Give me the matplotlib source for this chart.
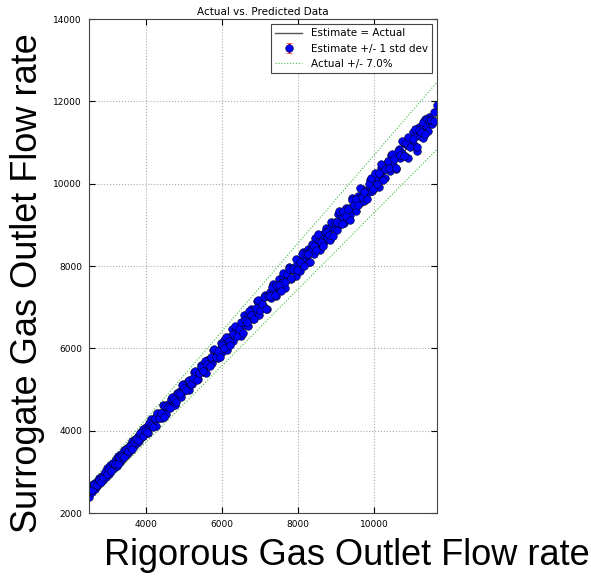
import matplotlib
matplotlib.use("Agg")
import matplotlib.pyplot as plt

# rigorous (actual) gas outlet flow rate vs surrogate (predicted) values
actual = [
    2510, 2540, 2580, 2610, 2650, 2690, 2720, 2760, 2800, 2830,
    2870, 2910, 2940, 2980, 3020, 3050, 3090, 3130, 3160, 3200,
    3240, 3270, 3310, 3350, 3380, 3420, 3460, 3490, 3530, 3570,
    3600, 3640, 3680, 3710, 3750, 3790, 3820, 3860, 3900, 3930,
    3970,
    4010, 4050, 4090, 4130, 4170, 4210, 4250, 4290, 4330, 4370,
    4410, 4450, 4490, 4530, 4570, 4610, 4650, 4690, 4730, 4770,
    4810, 4850, 4890, 4930, 4970, 5010, 5050, 5090, 5130, 5170,
    5210, 5250, 5290, 5330, 5370, 5410, 5450, 5490, 5530, 5570,
    5610, 5650, 5690, 5730, 5770, 5810, 5850, 5890, 5930, 5970,
    6010, 6050, 6090, 6130, 6170, 6210, 6250, 6290, 6330, 6370,
    6410, 6450, 6490, 6530, 6570, 6610, 6650, 6690, 6730, 6770,
    6810, 6850, 6890, 6930, 6970, 7010, 7050, 7090, 7130, 7170,
    7210, 7250, 7290, 7330, 7370, 7410, 7450, 7490, 7530, 7570,
    7610, 7650, 7690, 7730, 7770, 7810, 7850, 7890, 7930, 7970,
    8010, 8050, 8090, 8130, 8170, 8210, 8250, 8290, 8330, 8370,
    8410, 8450, 8490, 8530, 8570, 8610, 8650, 8690, 8730, 8770,
    8810, 8850, 8890, 8930, 8970, 9010, 9050, 9090, 9130, 9170,
    9210, 9250, 9290, 9330, 9370, 9410, 9450, 9490, 9530, 9570,
    9610, 9650, 9690, 9730, 9770, 9810, 9850, 9890, 9930, 9970,
    10010, 10050, 10090, 10130, 10170, 10210, 10250, 10290, 10330, 10370,
    10410, 10450, 10490, 10530, 10570, 10610, 10650, 10690, 10730, 10770,
    10810, 10850, 10890, 10930, 10970, 11010, 11050, 11090, 11130, 11170,
    11210, 11250, 11290, 11330, 11370, 11410, 11450, 11490, 11530, 11570,
    11640,
    # second batch of samples
    2530, 2590, 2640, 2700, 2750, 2810, 2860, 2920, 2970, 3030,
    3080, 3140, 3190, 3250, 3300, 3360, 3410, 3470, 3520, 3580,
    3630, 3690, 3740, 3800, 3850, 3910, 3960,
    4020, 4070, 4130, 4180, 4240, 4290, 4350, 4400, 4460, 4510,
    4570, 4620, 4680, 4730, 4790, 4840, 4900, 4950, 5010, 5060,
    5120, 5170, 5230, 5280, 5340, 5390, 5450, 5500, 5560, 5610,
    5670, 5720, 5780, 5830, 5890, 5940,
    6000, 6060, 6110, 6170, 6220, 6280, 6330, 6390, 6440, 6500,
    6550, 6610, 6660, 6720, 6770, 6830, 6880, 6940, 6990, 7050,
    7100, 7160, 7210, 7270, 7320, 7380, 7430, 7490, 7540, 7600,
    7650, 7710, 7760, 7820, 7870, 7930, 7980,
    8040, 8090, 8150, 8200, 8260, 8310, 8370, 8420, 8480, 8530,
    8590, 8640, 8700, 8750, 8810, 8860, 8920, 8970, 9030, 9080,
    9140, 9190, 9250, 9300, 9360, 9410, 9470, 9520, 9580, 9630,
    9690, 9740, 9800, 9850, 9910, 9960,
    10020, 10070, 10130, 10180, 10240, 10290, 10350, 10400, 10460, 10510,
    10570, 10620, 10680, 10730, 10790, 10840, 10900, 10950, 11010, 11060,
    11120, 11170, 11230, 11280, 11340, 11390, 11450, 11500, 11560,
]
predicted = [
    2380, 2630, 2520, 2700, 2580, 2760, 2650, 2860, 2740, 2900,
    2810, 2980, 2870, 3100, 2950, 3160, 3040, 3210, 3090, 3310,
    3150, 3380, 3240, 3440, 3300, 3520, 3400, 3590, 3450, 3660,
    3540, 3750, 3620, 3800, 3700, 3870, 3760, 3960, 3850, 4050,
    3920,
    4090, 3940, 4110, 4280, 4110, 4250, 4110, 4390, 4310, 4430,
    4320, 4620, 4490, 4410, 4660, 4570, 4780, 4610, 4760, 4620,
    4920, 4840, 4960, 4830, 5130, 4960, 5070, 5210, 5000, 5220,
    5140, 5430, 5270, 5420, 5260, 5450, 5590, 5430, 5540, 5410,
    5710, 5620, 5750, 5640, 5970, 5770, 5930, 5770, 5960, 6120,
    5920, 6210, 6120, 5950, 6280, 6190, 6470, 6170, 6390, 6510,
    6340, 6460, 6290, 6620, 6820, 6570, 6770, 6540, 6770, 6950,
    6710, 6920, 6860, 7140, 6810, 7110, 7070, 7010, 7300, 6950,
    7260, 7380, 7230, 7570, 7360, 7270, 7530, 7680, 7420, 7600,
    7760, 7460, 7750, 7680, 7970, 7680, 7960, 7900, 7760, 8060,
    8130, 7890, 8130, 8330, 8090, 8190, 8420, 8090, 8420, 8380,
    8280, 8680, 8450, 8590, 8390, 8750, 8670, 8590, 8920, 8710,
    8890, 8640, 9040, 8920, 9020, 8870, 9270, 9020, 9230, 9200,
    9040, 9410, 9260, 9400, 9250, 9650, 9400, 9500, 9340, 9700,
    9650, 9560, 9870, 9580, 9830, 9830, 9790, 10090, 9820, 10060,
    10160, 9930, 10150, 9930, 10380, 10170, 10350, 10130, 10350, 10550,
    10320, 10700, 10460, 10650, 10350, 10680, 10840, 10630, 10740, 11000,
    10670, 10940, 10630, 11090, 10950, 11250, 10950, 11150, 10800, 11370,
    11160, 11380, 11110, 11580, 11390, 11290, 11630, 11530, 11450, 11740,
    11900,
    # second batch of samples
    2560, 2550, 2700, 2680, 2800, 2750, 2870, 2990, 2940, 3070,
    3030, 3220, 3190, 3180, 3360, 3380, 3370, 3560, 3510, 3630,
    3550, 3720, 3810, 3780, 3950, 3860, 4000,
    3960, 4180, 4150, 4090, 4310, 4440, 4320, 4440, 4340, 4600,
    4580, 4550, 4810, 4780, 4690, 4920, 4880, 5110, 5040, 4980,
    5240, 5130, 5290, 5460, 5230, 5410, 5550, 5440, 5700, 5610,
    5580, 5790, 5980, 5800, 5940, 5800,
    6090, 6010, 6280, 6190, 6090, 6340, 6540, 6310, 6470, 6640,
    6380, 6690, 6650, 6910, 6810, 6710, 6990, 7170, 6930, 7070,
    7250, 6960, 7280, 7280, 7500, 7290, 7550, 7530, 7390, 7820,
    7620, 7800, 7920, 7710, 7920, 8170, 7910,
    8090, 8300, 8010, 8300, 8280, 8090, 8540, 8480, 8390, 8780,
    8590, 8480, 8830, 8820, 8750, 9060, 8730, 9060, 9060, 9340,
    9020, 9340, 9210, 9380, 9130, 9600, 9480, 9640, 9480, 9900,
    9670, 9800, 9630, 9990, 10130, 9880,
    10250, 9990, 10250, 10470, 10090, 10350, 10550, 10370, 10720, 10610,
    10380, 10790, 10700, 11040, 10680, 10980, 11140, 10890, 11090, 11340,
    10900, 11300, 11260, 11490, 11200, 11580, 11550, 11550, 11530,
]
std_dev = 50
tolerance = 0.07

x_limits = [2500, 11650]
y_limits = [2000, 14000]
x_ticks = [4000, 6000, 8000, 10000]
y_ticks = [2000, 4000, 6000, 8000, 10000, 12000, 14000]

fig = plt.figure(figsize=(5.91, 5.77), dpi=100)
ax = fig.add_axes([0.1506, 0.1109, 0.5888, 0.8561])

# perfect fit line and +/- tolerance band
line_fit, = ax.plot(x_limits, x_limits, color="#555555", linewidth=1, zorder=1)
pts = ax.errorbar(actual, predicted, yerr=std_dev, fmt="o", markersize=5.5,
                  markerfacecolor="blue", markeredgecolor="#000022", markeredgewidth=0.4,
                  ecolor="red", elinewidth=1, capsize=2, zorder=2)
upper = [v * (1 + tolerance) for v in x_limits]
lower = [v * (1 - tolerance) for v in x_limits]
line_tol, = ax.plot(x_limits, upper, color="#44bb44", linestyle=":", linewidth=0.8, zorder=1)
ax.plot(x_limits, lower, color="#44bb44", linestyle=":", linewidth=0.8, zorder=1)

ax.set_xlim(x_limits)
ax.set_ylim(y_limits)
ax.set_xticks(x_ticks)
ax.set_yticks(y_ticks)
ax.tick_params(direction="in", top=True, right=True, labelsize=6.5, length=4, pad=5)
ax.grid(True, linestyle=":", color="#aaaaaa", linewidth=0.8)
ax.set_axisbelow(True)
for s in ax.spines.values():
    s.set_color("#444444")
ax.set_title("Actual vs. Predicted Data", fontsize=7.5, pad=3)

leg = ax.legend([line_fit, pts, line_tol],
                ["Estimate = Actual", "Estimate +/- 1 std dev",
                 "Actual +/- %.1f%%" % (tolerance * 100)],
                loc="upper right", fontsize=7.5, fancybox=False, framealpha=1,
                edgecolor="#444444", numpoints=1, handlelength=2.6)
leg.get_frame().set_linewidth(0.8)

fig.text(0.047, 0.51, "Surrogate Gas Outlet Flow rate", rotation=90,
         ha="center", va="center", fontsize=26, family="Liberation Sans")
fig.text(0.587, 0.038, "Rigorous Gas Outlet Flow rate", ha="center", va="center",
         fontsize=26, family="Liberation Sans")

fig.savefig("out.png", dpi=100)
